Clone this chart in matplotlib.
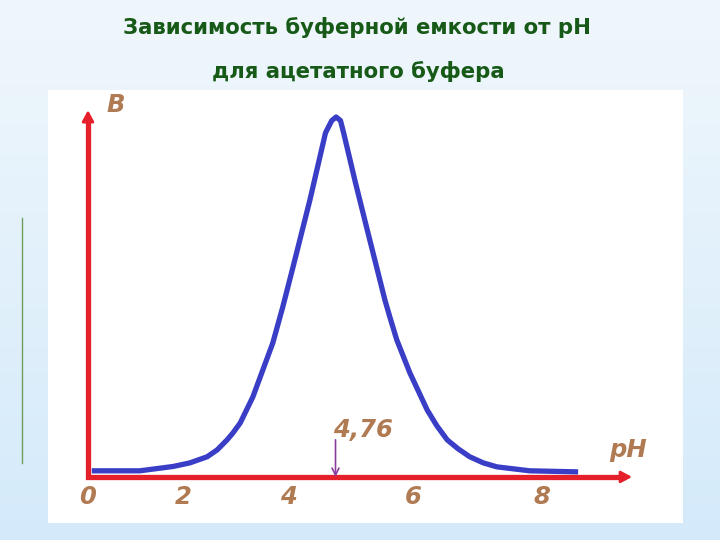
import numpy as np
import matplotlib
matplotlib.use("Agg")
import matplotlib.pyplot as plt

# buffer capacity curve (pH, B in relative units)
ph = [0.08, 1.09, 1.79, 2.13, 2.46, 2.65, 2.84, 2.95, 3.09, 3.21, 3.33, 3.52,
      3.71, 3.90, 4.08, 4.35, 4.60, 4.70, 4.77, 4.84, 4.89, 5.08, 5.28, 5.55,
      5.63, 5.74, 5.95, 6.22, 6.37, 6.53, 6.70, 6.88, 7.09, 7.30, 7.81, 8.56]
b = [0.017, 0.017, 0.029, 0.039, 0.056, 0.075, 0.103, 0.122, 0.150, 0.186,
     0.222, 0.297, 0.372, 0.472, 0.583, 0.769, 0.956, 0.99, 1.0, 0.99, 0.956,
     0.817, 0.678, 0.492, 0.444, 0.381, 0.289, 0.186, 0.142, 0.103, 0.078,
     0.056, 0.039, 0.028, 0.017, 0.014]

tick_vals = [0, 2, 4, 6, 8]
tick_labels = ["0", "2", "4", "6", "8"]
pka = 4.76
pka_label = "4,76"
title1 = "Зависимость буферной емкости от pH"
title2 = "для ацетатного буфера"

# the hand drawn pH axis is not evenly spaced -> piecewise scale
ph_knots = [-2, 0, 2, 4, 6, 8, 12]
px_knots = [-7, 88, 183, 288, 413, 542, 800]


def fwd(x):
    return np.interp(x, ph_knots, px_knots)


def inv(p):
    return np.interp(p, px_knots, ph_knots)


fig = plt.figure(figsize=(7.2, 5.4), dpi=100)

# light blue slide background
bg = fig.add_axes([0, 0, 1, 1])
bg.axis("off")
top = np.array([240, 247, 252]) / 255
bot = np.array([212, 234, 250]) / 255
g = np.linspace(0, 1, 256)[:, None, None]
img = top * (1 - g) + bot * g
bg.imshow(np.repeat(img, 4, axis=1), aspect="auto", extent=[0, 1, 0, 1])
bg.plot([22 / 720] * 2, [1 - 218 / 540, 1 - 463 / 540], color="#6f9e5e", lw=1)
bg.set_xlim(0, 1)
bg.set_ylim(0, 1)

fig.text(0.496, 1 - 27 / 540, title1, ha="center", va="center",
         fontsize=15.3, fontweight="bold", color="#175a17")
fig.text(0.497, 1 - 72 / 540, title2, ha="center", va="center",
         fontsize=15.3, fontweight="bold", color="#175a17")

ax = fig.add_axes([48 / 720, 1 - 523 / 540, (683 - 48) / 720, (523 - 90) / 540])
ax.set_facecolor("white")
ax.set_xscale("function", functions=(fwd, inv))
ax.set_xlim(inv(48), inv(683))
ax.set_ylim(-0.128, 1.075)
for s in ax.spines.values():
    s.set_visible(False)
ax.set_xticks([])
ax.set_yticks([])

red = "#e5202a"
x_end = inv(632)
y_end = 1.019
ax.plot([0, 0, x_end - 0.1], [y_end - 0.02, 0, 0], color=red, lw=3.8,
        solid_joinstyle="miter", solid_capstyle="butt", zorder=2)
head = "-|>,head_length=0.65,head_width=0.35"
ax.annotate("", xy=(0, y_end), xytext=(0, y_end - 0.05),
            arrowprops=dict(arrowstyle=head, color=red, lw=2, shrinkA=0, shrinkB=0))
ax.annotate("", xy=(x_end, 0), xytext=(x_end - 0.3, 0),
            arrowprops=dict(arrowstyle=head, color=red, lw=2, shrinkA=0, shrinkB=0))

ax.plot(ph, b, color="#3a3ec6", lw=3.8, solid_capstyle="butt",
        solid_joinstyle="round", zorder=3)

ax.annotate("", xy=(pka, 0), xytext=(pka, 0.103),
            arrowprops=dict(arrowstyle="->,head_length=0.5,head_width=0.25",
                            color="#8a3d9e", lw=1.2, shrinkA=0, shrinkB=0), zorder=4)

lbl = dict(color="#b07a52", fontsize=17.5, fontweight="bold", fontstyle="italic",
           ha="center", va="center", textcoords="offset pixels")
for t, l in zip(tick_vals, tick_labels):
    ax.annotate(l, (t, 0), xytext=(0, -20), **lbl)
ax.annotate(pka_label, (pka, 0.103), xytext=(27, 10), **lbl)
ax.annotate("В", (0, y_end), xytext=(28, 5), **lbl)
ax.annotate("pH", (x_end, 0), xytext=(-4, 27), **lbl)

fig.savefig("out.png", dpi=100)
